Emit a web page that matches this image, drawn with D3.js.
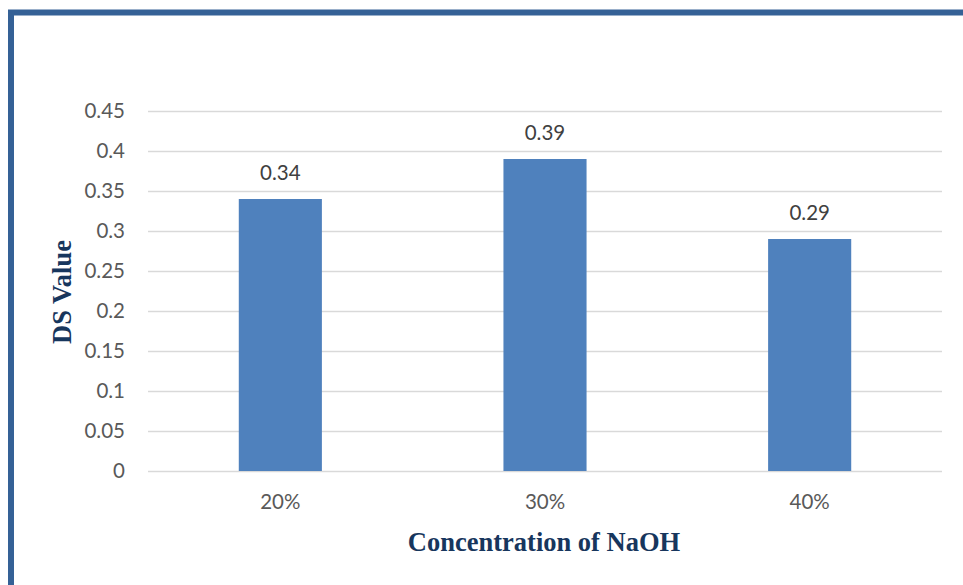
<!DOCTYPE html>
<html><head><meta charset="utf-8">
<script src="https://cdn.jsdelivr.net/npm/d3@7"></script>
<style>body{margin:0;background:#fff;}svg{display:block;}</style>
</head><body>
<svg id="c" width="963" height="585"></svg>
<script>
const categories = ["20%", "30%", "40%"];
const dsValues = [0.34, 0.39, 0.29];
const yTicks = [0, 0.05, 0.1, 0.15, 0.2, 0.25, 0.3, 0.35, 0.4, 0.45];
const xTitle = "Concentration of NaOH";
const yTitle = "DS Value";

(function () {
const svg = d3.select("#c");
const W = 963, H = 585;
svg.append("rect").attr("width", W).attr("height", H).attr("fill", "#fff");
// frame
svg.append("path").attr("d", `M11,${H + 5} L11,12.5 L${W + 5},12.5`)
  .attr("fill", "none").attr("stroke", "#356196").attr("stroke-width", 6);

const pLeft = 148, pRight = 942, pTop = 111, pBottom = 471;
const x = d3.scaleBand().domain(categories).range([pLeft, pRight]).padding(0);
const y = d3.scaleLinear().domain([0, 0.45]).range([pBottom, pTop]);

const tickFont = "Lato, 'Open Sans', sans-serif";
const fs = 20.5;
// gridlines
svg.append("g").selectAll("line").data(yTicks).join("line")
  .attr("x1", pLeft).attr("x2", pRight)
  .attr("y1", d => y(d) + 0.5).attr("y2", d => y(d) + 0.5)
  .attr("stroke", "#d9d9d9").attr("stroke-width", 1.3);

// y tick labels
svg.append("g").selectAll("text").data(yTicks).join("text")
  .attr("x", 125).attr("y", d => y(d)).attr("dy", "0.35em")
  .attr("text-anchor", "end").attr("font-family", tickFont).attr("font-size", fs)
  .attr("fill", "#595959").text(d => d3.format("")(d));

// bars
const bw = x.bandwidth() * 0.314;
svg.append("g").selectAll("rect").data(dsValues).join("rect")
  .attr("x", (d, i) => x(categories[i]) + x.bandwidth() / 2 - bw / 2)
  .attr("width", bw)
  .attr("y", d => y(d)).attr("height", d => pBottom - y(d))
  .attr("fill", "#4f81bd");

// data labels
svg.append("g").selectAll("text").data(dsValues).join("text")
  .attr("x", (d, i) => x(categories[i]) + x.bandwidth() / 2)
  .attr("y", d => y(d) - 26).attr("dy", "0.35em")
  .attr("text-anchor", "middle").attr("font-family", tickFont).attr("font-size", fs)
  .attr("fill", "#404040").text(d => d);

// x labels
svg.append("g").selectAll("text").data(categories).join("text")
  .attr("x", d => x(d) + x.bandwidth() / 2).attr("y", 502).attr("dy", "0.35em")
  .attr("text-anchor", "middle").attr("font-family", tickFont).attr("font-size", fs)
  .attr("fill", "#595959").text(d => d);

// axis titles
svg.append("text").attr("x", 544).attr("y", 542).attr("dy", "0.35em")
  .attr("text-anchor", "middle").attr("font-family", "'Liberation Serif', 'Times New Roman', serif")
  .attr("font-weight", "bold").attr("font-size", 26.5).attr("fill", "#17365d").text(xTitle);
svg.append("text").attr("transform", "translate(62,292) rotate(-90)").attr("dy", "0.35em")
  .attr("text-anchor", "middle").attr("font-family", "'Liberation Serif', 'Times New Roman', serif")
  .attr("font-weight", "bold").attr("font-size", 26.5).attr("fill", "#17365d").text(yTitle);
})();
</script>
</body></html>
